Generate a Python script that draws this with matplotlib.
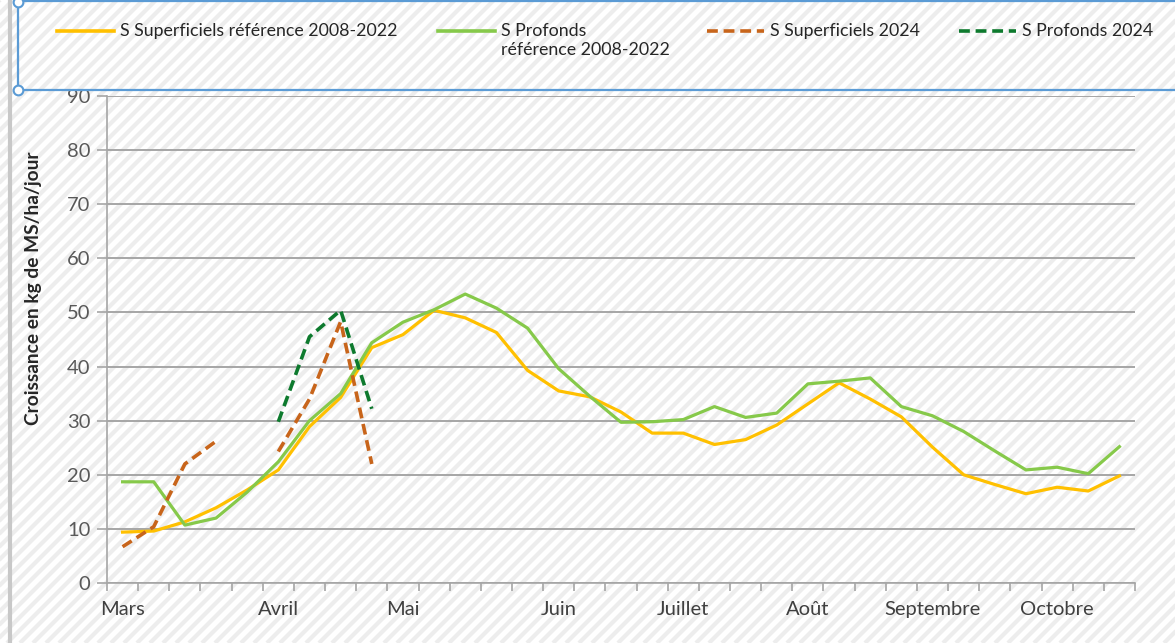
import numpy as np
import matplotlib.pyplot as plt
from matplotlib.lines import Line2D
from matplotlib.collections import LineCollection
from matplotlib.patches import Rectangle

plt.rcParams['font.family'] = ['Lato', 'DejaVu Sans']

# 33 semaines de mars a octobre
semaines = np.arange(33)
mois = ["Mars", "Avril", "Mai", "Juin", "Juillet", "Août", "Septembre", "Octobre"]
pos_mois = [0, 5, 9, 14, 18, 22, 26, 30]

nan = np.nan
sup_ref = [9.4, 9.6, 11.3, 13.9, 17.2, 20.9, 28.9, 34.3, 43.5, 45.9, 50.4, 49.0,
           46.3, 39.3, 35.5, 34.4, 31.6, 27.7, 27.7, 25.6, 26.5, 29.2, 33.1, 37.0,
           34.0, 30.7, 25.1, 20.0, 18.2, 16.5, 17.7, 17.0, 19.8]
prof_ref = [18.7, 18.7, 10.7, 12.0, 16.8, 22.4, 30.0, 35.0, 44.4, 48.2, 50.5, 53.4,
            50.8, 47.1, 39.6, 34.5, 29.7, 29.8, 30.2, 32.6, 30.6, 31.4, 36.8, 37.3,
            37.9, 32.6, 30.9, 28.0, 24.4, 20.9, 21.4, 20.2, 25.2]
sup_2024 = [6.7, 10.4, 22.0, 26.2, nan, 24.3, 34.0, 48.3, 22.0] + [nan] * 24
prof_2024 = [nan] * 5 + [29.8, 45.5, 50.4, 32.2] + [nan] * 24

noms = ["S Superficiels référence 2008-2022", "S Profonds\nréférence 2008-2022",
        "S Superficiels 2024", "S Profonds 2024"]
couleurs = ["#FFC000", "#86C94A", "#C8651B", "#0E7A2E"]
styles = ["-", "-", (0, (3, 1.6)), (0, (3, 1.6))]

W, H = 1175, 643
fig = plt.figure(figsize=(W / 100, H / 100), dpi=100)
fig.patch.set_facecolor("white")


def fx(x):
    return x / W


def fy(y):
    return 1 - y / H


# fond hachure
segs = []
for c in range(-H, W + 14, 13):
    segs.append([(fx(c), fy(H)), (fx(c + H), fy(0))])
fig.add_artist(LineCollection(segs, colors="#ededed", linewidths=3.0,
                              transform=fig.transFigure, zorder=-10))
fig.add_artist(Line2D([fx(10), fx(10)], [0, 1], color="#c8c8c8", lw=3,
                      transform=fig.transFigure))

ax = fig.add_axes([fx(107), fy(583), fx(1135) - fx(107), fy(96) - fy(583)])
ax.set_facecolor("none")

series = [sup_ref, prof_ref, sup_2024, prof_2024]
for s, col, ls in zip(series, couleurs, styles):
    lw = 2.3 if ls == "-" else 2.6
    ax.plot(semaines, s, color=col, lw=lw, linestyle=ls)

ax.set_xlim(-0.5, 32.5)
ax.set_ylim(0, 90)
ax.set_yticks(range(0, 100, 10))
ax.yaxis.grid(True, color="#a6a6a6", lw=1.4)
ax.set_axisbelow(True)
for sp in ["top", "right"]:
    ax.spines[sp].set_visible(False)
for sp in ["left", "bottom"]:
    ax.spines[sp].set_color("#a6a6a6")
    ax.spines[sp].set_linewidth(1.2)

ax.set_xticks(np.arange(-0.5, 33, 1))
ax.set_xticklabels([])
ax.set_xticks(pos_mois, minor=True)
ax.set_xticklabels(mois, minor=True)
ax.tick_params(axis="x", which="major", length=6, color="#a6a6a6", width=1.2)
ax.tick_params(axis="x", which="minor", length=0, pad=13, labelsize=14.5,
               labelcolor="#404040")
ax.tick_params(axis="y", length=7, color="#a6a6a6", width=1.2, pad=5,
               labelsize=14.5, labelcolor="#595959")

fig.text(fx(34), fy(288), "Croissance en kg de MS/ha/jour", rotation=90,
         ha="center", va="center", fontsize=13.8, fontweight="bold",
         color="#262626")

# legende dessinee a la main en haut
bleu = "#5B9BD5"
fig.add_artist(Rectangle((fx(18), fy(90)), fx(1200) - fx(18), fy(1) - fy(90),
                         fill=False, edgecolor=bleu, lw=1.6,
                         transform=fig.transFigure))
fig.add_artist(Line2D([fx(18), fx(18)], [fy(2), fy(90)], color=bleu, lw=0,
                      marker="o", markersize=7, markerfacecolor="white",
                      markeredgecolor=bleu, markeredgewidth=1.5,
                      transform=fig.transFigure))

poignees = [57, 438, 707, 959]
for x0, nom, col, ls in zip(poignees, noms, couleurs, styles):
    fig.add_artist(Line2D([fx(x0), fx(x0 + 57)], [fy(31), fy(31)], color=col,
                          lw=2.6, linestyle=ls, transform=fig.transFigure))
    fig.text(fx(x0 + 63), fy(23), nom, ha="left", va="top", fontsize=12.8,
             color="#262626", linespacing=1.2)

fig.savefig("out.png", dpi=100)
